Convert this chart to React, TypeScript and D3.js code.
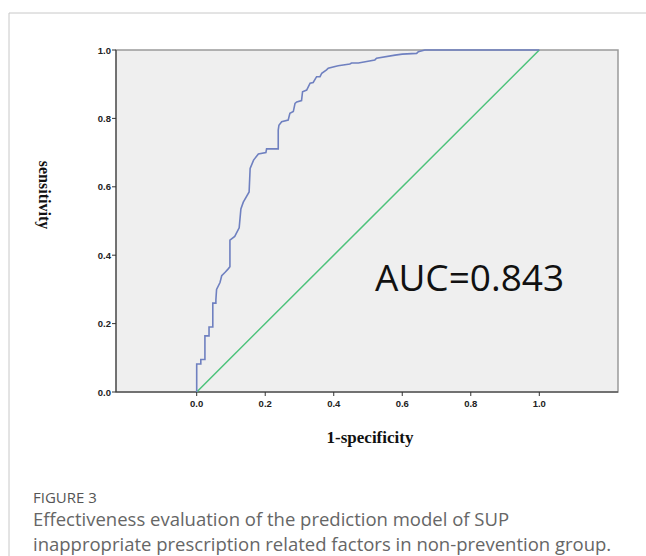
import React from "react";
import * as d3 from "d3";

const fpr: number[] = [0, 0, 0.012, 0.012, 0.024, 0.024, 0.036, 0.036, 0.047, 0.047, 0.056, 0.056, 0.058, 0.068, 0.073, 0.083, 0.092, 0.097, 0.097, 0.111, 0.124, 0.129, 0.136, 0.153, 0.156, 0.166, 0.18, 0.202, 0.204, 0.238, 0.238, 0.24, 0.248, 0.267, 0.272, 0.282, 0.287, 0.292, 0.306, 0.309, 0.321, 0.331, 0.34, 0.35, 0.36, 0.365, 0.379, 0.384, 0.404, 0.413, 0.447, 0.452, 0.472, 0.52, 0.525, 0.579, 0.6, 0.642, 0.647, 0.666, 1];
const tpr: number[] = [0, 0.082, 0.082, 0.095, 0.095, 0.164, 0.164, 0.19, 0.19, 0.26, 0.26, 0.27, 0.3, 0.32, 0.34, 0.35, 0.36, 0.366, 0.444, 0.455, 0.48, 0.535, 0.555, 0.585, 0.654, 0.678, 0.696, 0.7, 0.711, 0.711, 0.766, 0.78, 0.79, 0.795, 0.815, 0.82, 0.844, 0.848, 0.852, 0.878, 0.883, 0.903, 0.905, 0.922, 0.922, 0.932, 0.942, 0.947, 0.952, 0.954, 0.959, 0.962, 0.962, 0.971, 0.976, 0.985, 0.988, 0.99, 0.995, 1, 1];
const refLine: number[] = [0, 1];
const ticks: number[] = [0, 0.2, 0.4, 0.6, 0.8, 1.0];
const aucLabel = "AUC=0.843";
const xTitle = "1-specificity";
const yTitle = "sensitivity";
const captionHead = "FIGURE 3";
const captionLines: string[] = [
  "Effectiveness evaluation of the prediction model of SUP",
  "inappropriate prescription related factors in non-prevention group.",
];

export default function App() {
  const x = d3.scaleLinear().domain([0, 1]).range([196.7, 539.3]);
  const y = d3.scaleLinear().domain([0, 1]).range([392, 50]);
  const plotLeft = 116;
  const plotRight = 618;
  const plotTop = 50;
  const plotBottom = 392;
  const pts: [number, number][] = fpr.map((f, i) => [f, tpr[i]]);
  const line = d3
    .line<[number, number]>()
    .x((d) => x(d[0]))
    .y((d) => y(d[1]));
  const diag: [number, number][] = refLine.map((v) => [v, v]);
  const fmt = d3.format(".1f");
  const tickFont = "Liberation Sans, Arial, sans-serif";
  return (
    <svg
      width={646}
      height={556}
      style={{ position: "absolute", left: 0, top: 0, background: "#fff" }}
    >
      <line x1={9} y1={13} x2={646} y2={13} stroke="#c8c8c8" strokeWidth={1} />
      <line x1={9} y1={13} x2={9} y2={556} stroke="#c8c8c8" strokeWidth={1} />
      <rect
        x={plotLeft}
        y={plotTop}
        width={plotRight - plotLeft}
        height={plotBottom - plotTop}
        fill="#efefef"
        stroke="#9a9a9a"
        strokeWidth={1.5}
      />
      <line x1={plotLeft} y1={plotTop} x2={plotLeft} y2={plotBottom} stroke="#333" strokeWidth={1} />
      <line x1={plotLeft} y1={plotBottom} x2={plotRight} y2={plotBottom} stroke="#333" strokeWidth={1} />
      <path d={line(diag) || ""} fill="none" stroke="#4cc27a" strokeWidth={1.5} />
      <path d={line(pts) || ""} fill="none" stroke="#6f80c0" strokeWidth={1.6} />
      {ticks.map((t) => (
        <g key={"y" + t}>
          <line x1={plotLeft - 4} x2={plotLeft} y1={y(t)} y2={y(t)} stroke="#333" />
          <text
            x={plotLeft - 5}
            y={y(t) + 3.5}
            textAnchor="end"
            fontFamily={tickFont}
            fontSize={9.5}
            fontWeight="bold"
            fill="#222"
          >
            {fmt(t)}
          </text>
        </g>
      ))}
      {ticks.map((t) => (
        <g key={"x" + t}>
          <line x1={x(t)} x2={x(t)} y1={plotBottom} y2={plotBottom + 4} stroke="#333" />
          <text
            x={x(t)}
            y={plotBottom + 15}
            textAnchor="middle"
            fontFamily={tickFont}
            fontSize={9.5}
            fontWeight="bold"
            fill="#222"
          >
            {fmt(t)}
          </text>
        </g>
      ))}
      <text
        x={375}
        y={291}
        fontFamily="Open Sans, sans-serif"
        fontSize={37}
        fill="#111"
      >
        {aucLabel}
      </text>
      <text
        x={370}
        y={443}
        textAnchor="middle"
        fontFamily="Liberation Serif, Times New Roman, serif"
        fontSize={17}
        fontWeight="bold"
        fill="#111"
      >
        {xTitle}
      </text>
      <text
        transform="translate(39,195) rotate(90)"
        textAnchor="middle"
        fontFamily="Liberation Serif, Times New Roman, serif"
        fontSize={16}
        fontWeight="bold"
        fill="#111"
      >
        {yTitle}
      </text>
      <text x={33} y={503} fontFamily="Open Sans, sans-serif" fontSize={15} fill="#555">
        {captionHead}
      </text>
      {captionLines.map((s, i) => (
        <text
          key={i}
          x={33}
          y={526 + i * 24.5}
          fontFamily="Open Sans, sans-serif"
          fontSize={18.5}
          fill="#666"
        >
          {s}
        </text>
      ))}
    </svg>
  );
}
